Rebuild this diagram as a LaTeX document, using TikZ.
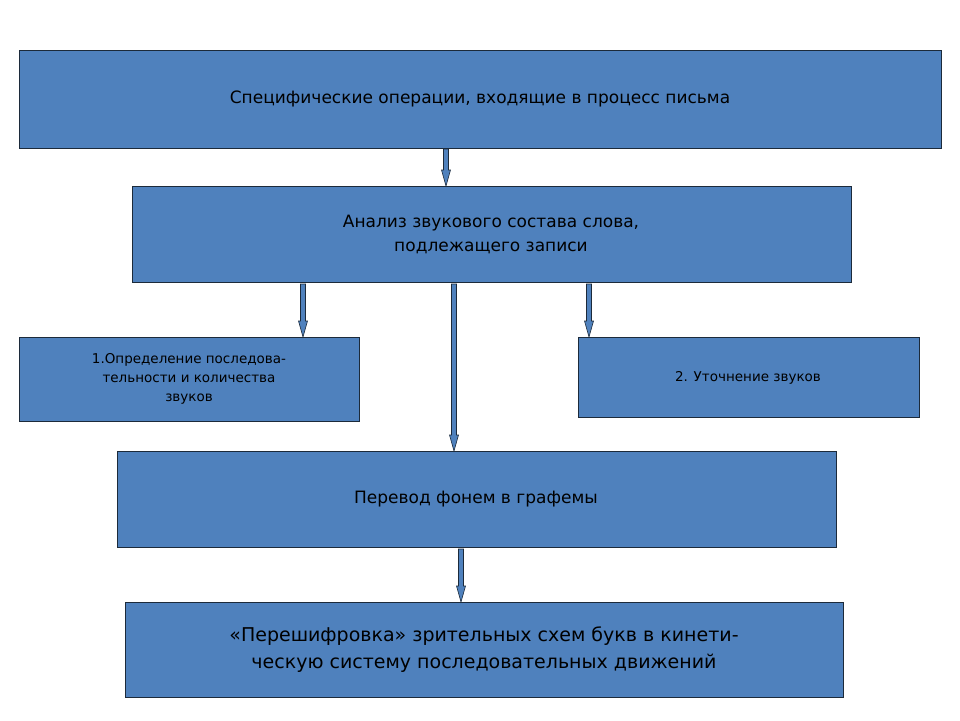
\documentclass[tikz,border=0pt]{standalone}
\usepackage{fontspec}
\setmainfont{DejaVu Sans}
\definecolor{bfill}{HTML}{4F81BD}
\definecolor{bline}{HTML}{1C2A3A}
\begin{document}
\begin{tikzpicture}[x=1pt,y=-1pt,
  box/.style={draw=bline,fill=bfill,line width=0.8pt,text=black!90,align=center},
  barr/.style={draw=bline,fill=bfill,line width=0.6pt}]
\useasboundingbox (0,0) rectangle (960,720);
\newcommand{\barrow}[3]{\draw[barr] (#1-2.5,#2) -- (#1+2.5,#2) -- (#1+2.5,#3-16) -- (#1+4.5,#3-16) -- (#1,#3) -- (#1-4.5,#3-16) -- (#1-2.5,#3-16) -- cycle;}
\draw[box] (19,50) rectangle (941,148);
\node[font=\fontsize{17}{21}\selectfont] (t1) at (480,99) {Специфические операции, входящие в процесс письма};
\draw[box] (132,186) rectangle (851,282);
\node[font=\fontsize{17}{24}\selectfont,align=center] (t2) at (491,234) {Анализ звукового состава слова,\\ подлежащего записи};
\draw[box] (19,337) rectangle (359,421);
\node[font=\fontsize{13.5}{19}\selectfont,align=center] (t3) at (189,379) {1.Определение последова-\\тельности и количества\\звуков};
\draw[box] (578,337) rectangle (919,417);
\node[font=\fontsize{13.5}{19}\selectfont] (t4) at (748,378) {2. Уточнение звуков};
\draw[box] (117,451) rectangle (836,547);
\node[font=\fontsize{17}{21}\selectfont] (t5) at (476,499) {Перевод фонем в графемы};
\draw[box] (125,602) rectangle (843,697);
\node[font=\fontsize{19}{27}\selectfont,align=center] (t6) at (484,650) {«Перешифровка» зрительных схем букв в кинети-\\ческую систему последовательных движений};
\barrow{446}{149}{186}
\barrow{303}{284}{337}
\barrow{454}{284}{451}
\barrow{589}{284}{337}
\barrow{461}{549}{602}
\end{tikzpicture}
\end{document}
